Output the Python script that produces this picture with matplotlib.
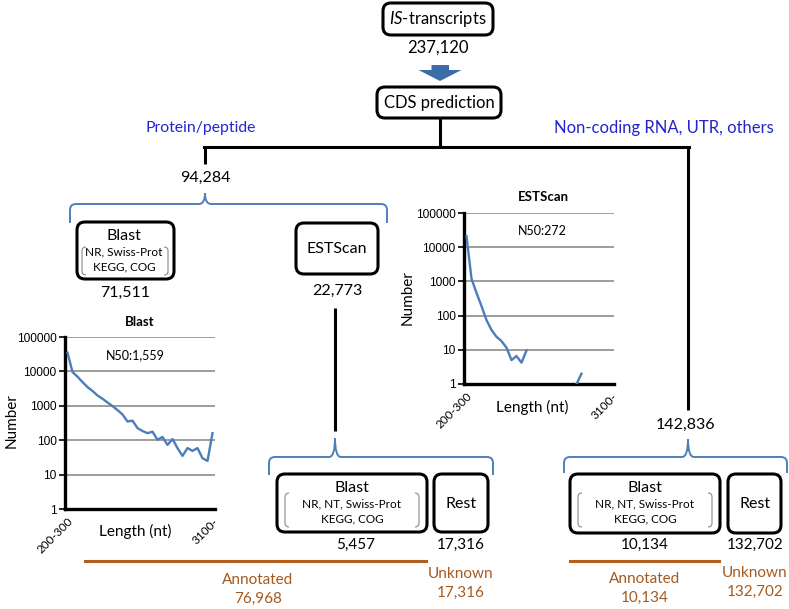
import numpy as np
import matplotlib
matplotlib.use('Agg')
from matplotlib import pyplot as plt
from matplotlib.patches import FancyBboxPatch, PathPatch, Polygon
from matplotlib.path import Path
from matplotlib.ticker import NullLocator

plt.rcParams['font.family'] = ['Lato', 'DejaVu Sans']
plt.rcParams['mathtext.fontset'] = 'custom'
plt.rcParams['mathtext.rm'] = 'Lato'
plt.rcParams['mathtext.it'] = 'Lato:italic'

W, H = 789, 609

# length bins of the two histograms (200-300 ... 3100-)
bin_labels = ['200-300', '300-400', '400-500', '500-600', '600-700', '700-800',
              '800-900', '900-1000', '1000-1100', '1100-1200', '1200-1300',
              '1300-1400', '1400-1500', '1500-1600', '1600-1700', '1700-1800',
              '1800-1900', '1900-2000', '2000-2100', '2100-2200', '2200-2300',
              '2300-2400', '2400-2500', '2500-2600', '2600-2700', '2700-2800',
              '2800-2900', '2900-3000', '3000-3100', '3100-']
blast_counts = [35000, 9600, 7000, 4900, 3500, 2700, 2000, 1600, 1250, 980,
                750, 560, 350, 370, 225, 185, 160, 177, 103, 124,
                73, 108, 59, 35, 59, 49, 59, 30, 25, 160]
nan = np.nan
estscan_counts = [21000, 1200, 460, 190, 74, 38, 24, 18, 11.5, 5,
                  6.6, 4.2, 9.6, nan, nan, nan, nan, nan, nan, nan,
                  nan, nan, 1, 2, nan, nan, nan, nan, nan, nan]
ytick_vals = [1, 10, 100, 1000, 10000, 100000]
ytick_labels = ['1', '10', '100', '1000', '10000', '100000']

# flow numbers
n_total = 237120
n_protein = 94284
n_noncoding = 142836
n_blast1 = 71511
n_estscan = 22773
n_blast2 = 5457
n_rest2 = 17316
n_blast3 = 10134
n_rest3 = 132702
n_annot1 = 76968
n_unknown1 = 17316
n_annot2 = 10134
n_unknown2 = 132702

BLUE_TXT = '#2424cf'
BRACE = '#4f7fb8'
ORANGE = '#b3601f'
ORANGE_TXT = '#a65a1e'
LINE = '#4a7ebb'

fig = plt.figure(figsize=(W / 100, H / 100), dpi=100)
ax = fig.add_axes([0, 0, 1, 1])
ax.set_xlim(0, W)
ax.set_ylim(H, 0)
ax.axis('off')

def fmt(n):
    return '{:,}'.format(n)

def txt(x, y, s, size=11, color='black', **kw):
    ax.text(x, y, s, ha='center', va='center', fontsize=size, color=color, **kw)

def rbox(x0, y0, x1, y1, r=8):
    ax.add_patch(FancyBboxPatch((x0, y0), x1 - x0, y1 - y0,
                                boxstyle='round,pad=0,rounding_size=%g' % r,
                                fc='white', ec='black', lw=2.2, zorder=3))

def brackets(x0, x1, y0, y1, c=4):
    # thin "( )" round the database names
    for xa, s in ((x0, 1), (x1, -1)):
        v = [(xa + s * c, y0), (xa, y0), (xa, y0 + c), (xa, y1 - c), (xa, y1), (xa + s * c, y1)]
        codes = [Path.MOVETO, Path.CURVE3, Path.CURVE3, Path.LINETO, Path.CURVE3, Path.CURVE3]
        ax.add_patch(PathPatch(Path(v, codes), fc='none', ec='#8a8a8a', lw=0.8, zorder=4))

def brace(xl, xc, xr, ytop, ybot, ytip, c=6):
    v = [(xl, ybot), (xl, ytop + c), (xl, ytop), (xl + c, ytop),
         (xc - c, ytop), (xc, ytop), (xc, ytip), (xc, ytop), (xc + c, ytop),
         (xr - c, ytop), (xr, ytop), (xr, ytop + c), (xr, ybot)]
    codes = [Path.MOVETO, Path.LINETO, Path.CURVE3, Path.CURVE3,
             Path.LINETO, Path.CURVE3, Path.CURVE3, Path.CURVE3, Path.CURVE3,
             Path.LINETO, Path.CURVE3, Path.CURVE3, Path.LINETO]
    ax.add_patch(PathPatch(Path(v, codes), fc='none', ec=BRACE, lw=1.4))

def vline(x, y0, y1):
    ax.plot([x, x], [y0, y1], color='black', lw=2.2, solid_capstyle='butt')

# top part
rbox(383, 3, 493, 35)
txt(438, 19, r'$\mathit{IS}$-transcripts', size=12)
txt(438, 48, fmt(n_total), size=12)
ax.add_patch(Polygon([(431.5, 65), (449, 65), (449, 70), (461.5, 70), (440, 81),
                      (418.5, 70), (431.5, 70)], closed=True, fc='#3b6ca8', ec='none'))
rbox(377, 87, 501, 118)
txt(439, 103, 'CDS prediction', size=12)

vline(440, 118, 147)
ax.plot([204, 689], [147, 147], color='black', lw=2.2, solid_capstyle='projecting')
vline(205, 147, 164)
vline(688, 147, 410)
txt(201, 128, 'Protein/peptide', size=11.3, color=BLUE_TXT)
txt(664, 128, 'Non-coding RNA, UTR, others', size=12, color=BLUE_TXT)
txt(205, 178, fmt(n_protein), size=11.5)

# protein branch
brace(70, 205, 387, 204, 223, 193)
rbox(77, 222, 174, 279)
txt(124, 236, 'Blast', size=11.5)
txt(124, 252, 'NR, Swiss-Prot', size=8.5)
txt(124, 267, 'KEGG, COG', size=8.5)
brackets(82, 168, 247, 275)
txt(125, 293, fmt(n_blast1), size=11.5)
rbox(296, 223, 378, 274)
txt(337, 249, 'ESTScan', size=11.5)
txt(337, 291, fmt(n_estscan), size=11.5)
vline(335, 308, 431)

brace(269, 335, 493, 457, 475, 438)
rbox(277, 474, 427, 532)
txt(352, 488, 'Blast', size=11.5)
txt(352, 504, 'NR, NT, Swiss-Prot', size=8.5)
txt(352, 519, 'KEGG, COG', size=8.5)
brackets(285, 419, 493, 527)
rbox(434, 474, 488, 532)
txt(461, 504, 'Rest', size=11.5)
txt(356, 545, fmt(n_blast2))
txt(461, 545, fmt(n_rest2))

# non-coding branch
txt(686, 425, fmt(n_noncoding), size=11.5)
brace(564, 688, 787, 457, 473, 439)
rbox(570, 474, 720, 533)
txt(645, 488, 'Blast', size=11.5)
txt(645, 504, 'NR, NT, Swiss-Prot', size=8.5)
txt(645, 519, 'KEGG, COG', size=8.5)
brackets(578, 712, 493, 527)
rbox(728, 474, 781, 533)
txt(755, 504, 'Rest', size=11.5)
txt(645, 545, fmt(n_blast3))
txt(755, 545, fmt(n_rest3))

# bottom summary
ax.plot([85, 426], [561, 561], color=ORANGE, lw=2.2)
ax.plot([570, 719], [561, 561], color=ORANGE, lw=2.2)
txt(258, 580, 'Annotated', color=ORANGE_TXT)
txt(258, 599, fmt(n_annot1), color=ORANGE_TXT)
txt(461, 574, 'Unknown', color=ORANGE_TXT)
txt(461, 593, fmt(n_unknown1), color=ORANGE_TXT)
txt(645, 579, 'Annotated', color=ORANGE_TXT)
txt(645, 598, fmt(n_annot2), color=ORANGE_TXT)
txt(755, 573, 'Unknown', color=ORANGE_TXT)
txt(755, 592, fmt(n_unknown2), color=ORANGE_TXT)

# length distributions
def length_plot(left, top, right, bottom, counts):
    iax = fig.add_axes([left / W, 1 - bottom / H, (right - left) / W, (bottom - top) / H])
    iax.set_facecolor('none')
    iax.plot(np.arange(len(counts)), counts, color=LINE, lw=1.7, zorder=3)
    iax.set_yscale('log')
    iax.set_ylim(1, 100000)
    iax.set_xlim(-0.5, len(bin_labels) - 0.5)
    iax.set_yticks(ytick_vals)
    iax.set_yticklabels(ytick_labels, fontfamily='Liberation Sans', fontsize=8.6)
    iax.yaxis.set_minor_locator(NullLocator())
    iax.grid(axis='y', color='#8c8c8c', lw=1.2)
    iax.set_xticks([0, len(bin_labels) - 1])
    iax.set_xticklabels([bin_labels[0], bin_labels[-1]], rotation=45, ha='right',
                        rotation_mode='anchor', fontsize=8.5)
    iax.tick_params(axis='x', length=0, pad=5)
    iax.tick_params(axis='y', length=4, width=1.2, pad=2)
    for s in ('top', 'right'):
        iax.spines[s].set_visible(False)
    for s in ('left', 'bottom'):
        iax.spines[s].set_linewidth(2.4)
    return iax

length_plot(65, 337, 215, 509, blast_counts)
txt(140, 322, 'Blast', size=9.5, weight='bold')
txt(135, 355, 'N50:1,559', size=9)
txt(135, 531, 'Length (nt)', size=11)
txt(12, 421, 'Number', size=11, rotation=90)

length_plot(464, 213, 614, 384, estscan_counts)
txt(543, 197, 'ESTScan', size=9.5, weight='bold')
txt(542, 231, 'N50:272', size=9)
txt(532, 407, 'Length (nt)', size=11)
txt(408, 298, 'Number', size=11, rotation=90)

fig.savefig('out.png', dpi=100)
